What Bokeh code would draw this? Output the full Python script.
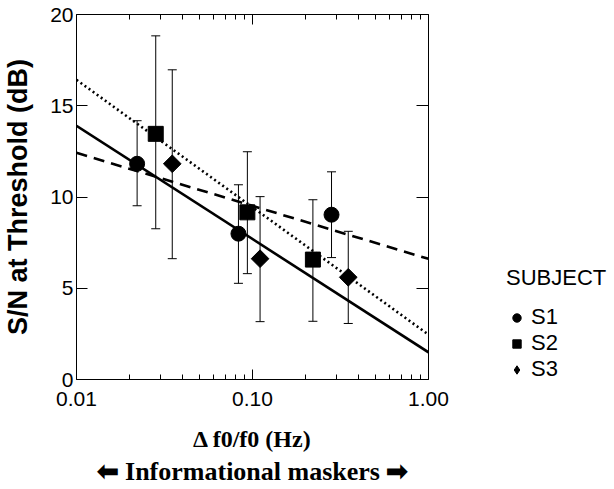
import numpy as np
from bokeh.plotting import figure
from bokeh.layouts import row
from bokeh.models import (ColumnDataSource, Whisker, TeeHead, Range1d, LinearAxis, LogAxis,
                          FixedTicker, PrintfTickFormatter, Legend, LegendItem, Title)
from bokeh.embed import file_html
from bokeh.resources import INLINE

# ---- data ----
s1_x = [0.0221, 0.0832, 0.2812]
s1_y = [11.82, 7.99, 9.03]
s1_lo = [9.52, 5.27, 6.68]
s1_hi = [14.18, 10.67, 11.38]

s2_x = [0.0282, 0.0935, 0.2204]
s2_y = [13.46, 9.16, 6.57]
s2_lo = [8.26, 5.80, 3.19]
s2_hi = [18.83, 12.48, 9.85]

s3_x = [0.0350, 0.1104, 0.3500]
s3_y = [11.82, 6.62, 5.60]
s3_lo = [6.62, 3.17, 3.07]
s3_hi = [16.97, 10.02, 8.12]

fit_x = [0.01, 1.0]
s1_fit = [12.42, 6.61]
s2_fit = [16.42, 2.46]
s3_fit = [13.90, 1.49]

subjects = ["S1", "S2", "S3"]
x_ticks = [0.01, 0.1, 1.0]
x_minor = [0.02, 0.03, 0.04, 0.05, 0.06, 0.07, 0.08, 0.09,
           0.2, 0.3, 0.4, 0.5, 0.6, 0.7, 0.8, 0.9]
y_ticks = [0, 5, 10, 15, 20]

SANS = "Liberation Sans"
SERIF = "Liberation Serif"

p = figure(x_axis_type="log", output_backend="svg", toolbar_location=None,
           frame_width=352, frame_height=365,
           min_border_left=72, min_border_top=14, min_border_right=30, min_border_bottom=5,
           x_range=Range1d(0.01, 1.0), y_range=Range1d(0, 20))
p.xgrid.visible = False
p.ygrid.visible = False
p.outline_line_color = None
p.background_fill_color = "white"
p.border_fill_color = "white"

# bottom axis
xa = p.xaxis[0]
xa.ticker = FixedTicker(ticks=x_ticks, minor_ticks=x_minor)
xa.formatter = PrintfTickFormatter(format="%.2f")
xa.major_tick_in = 10
xa.major_tick_out = 0
xa.minor_tick_in = 5
xa.minor_tick_out = 0
xa.major_label_text_font = SANS
xa.major_label_text_font_size = "21px"
xa.major_label_text_color = "black"
xa.major_label_standoff = 12
xa.axis_label = "\u0394 f0/f0 (Hz)"
xa.axis_label_text_font = SERIF
xa.axis_label_text_font_style = "bold"
xa.axis_label_text_font_size = "24px"
xa.axis_label_text_color = "black"
xa.axis_label_standoff = 17
xa.axis_line_color = "black"

# left axis
ya = p.yaxis[0]
ya.ticker = FixedTicker(ticks=y_ticks, minor_ticks=[])
ya.major_tick_in = 11
ya.major_tick_out = 0
ya.minor_tick_in = 0
ya.minor_tick_out = 0
ya.major_label_text_font = SANS
ya.major_label_text_font_size = "21px"
ya.major_label_text_color = "black"
ya.major_label_standoff = 3
ya.axis_label = "S/N at Threshold (dB)"
ya.axis_label_text_font = SANS
ya.axis_label_text_font_style = "bold"
ya.axis_label_text_font_size = "27px"
ya.axis_label_text_color = "black"
ya.axis_label_standoff = 14
ya.axis_line_color = "black"

# top & right axes (ticks only)
top = LogAxis(ticker=FixedTicker(ticks=x_ticks, minor_ticks=x_minor),
              major_tick_in=10, major_tick_out=0, minor_tick_in=5, minor_tick_out=0,
              major_label_text_font_size="1px", major_label_text_alpha=0,
              major_label_standoff=0, axis_line_color="black")
p.add_layout(top, "above")
right = LinearAxis(ticker=FixedTicker(ticks=y_ticks, minor_ticks=[]),
                   major_tick_in=12, major_tick_out=0, minor_tick_in=0, minor_tick_out=0,
                   major_label_text_font_size="1px", major_label_text_alpha=0,
                   major_label_standoff=0, axis_line_color="black")
p.add_layout(right, "right")

# regression lines
p.line(fit_x, s1_fit, line_color="black", line_width=2.6, line_dash="11 7")
p.line(fit_x, s2_fit, line_color="black", line_width=2.6, line_dash="2 3")
p.line(fit_x, s3_fit, line_color="black", line_width=2.6)

series = [(s1_x, s1_y, s1_lo, s1_hi, "circle", 15, 0.0),
          (s2_x, s2_y, s2_lo, s2_hi, "square", 15, 0.0),
          (s3_x, s3_y, s3_lo, s3_hi, "square", 12.5, np.pi / 4)]
for xs, ys, lo, hi, mk, sz, ang in series:
    src = ColumnDataSource(dict(x=xs, y=ys, lo=lo, hi=hi))
    w = Whisker(source=src, base="x", lower="lo", upper="hi", dimension="height",
                line_color="black", line_width=1,
                upper_head=TeeHead(size=9, line_color="black", line_width=1),
                lower_head=TeeHead(size=9, line_color="black", line_width=1))
    p.add_layout(w)
    p.scatter("x", "y", source=src, marker=mk, size=sz, angle=ang,
              fill_color="black", line_color="black")

t = Title(text="\u2B05 Informational maskers \u27A1", align="center",
          text_font=SERIF, text_font_style="bold", text_font_size="26px",
          text_color="black", standoff=0)
p.add_layout(t, "below")

# ---- legend panel (separate small figure beside the plot) ----
leg = figure(width=150, height=488, output_backend="svg", toolbar_location=None,
             min_border_left=48, min_border_bottom=64, min_border_top=0, min_border_right=0,
             x_range=Range1d(0, 1), y_range=Range1d(-2, -1))
leg.axis.visible = False
leg.xgrid.visible = False
leg.ygrid.visible = False
leg.outline_line_color = None
leg_markers = ["circle", "square", "diamond"]
leg_renderers = []
for (xs, ys), mk in zip([(s1_x, s1_y), (s2_x, s2_y), (s3_x, s3_y)], leg_markers):
    # same series data; it lies outside this panel's ranges, so only the legend glyph shows
    r = leg.scatter(x=xs, y=ys, marker=mk, size=10, fill_color="black", line_color="black")
    leg_renderers.append(r)

legend = Legend(items=[LegendItem(label=s, renderers=[r]) for s, r in zip(subjects, leg_renderers)],
                location="bottom_left", title="SUBJECT",
                title_text_font=SANS, title_text_font_size="22px", title_text_font_style="normal",
                title_text_color="black", title_standoff=13,
                label_text_font=SANS, label_text_font_size="22px", label_text_color="black",
                glyph_width=21, glyph_height=21, label_height=21, label_standoff=4,
                spacing=0, padding=0, margin=0,
                border_line_color=None, background_fill_alpha=0)
leg.add_layout(legend, "center")

layout = row(p, leg)
open("out.html", "w").write(file_html(layout, INLINE))
